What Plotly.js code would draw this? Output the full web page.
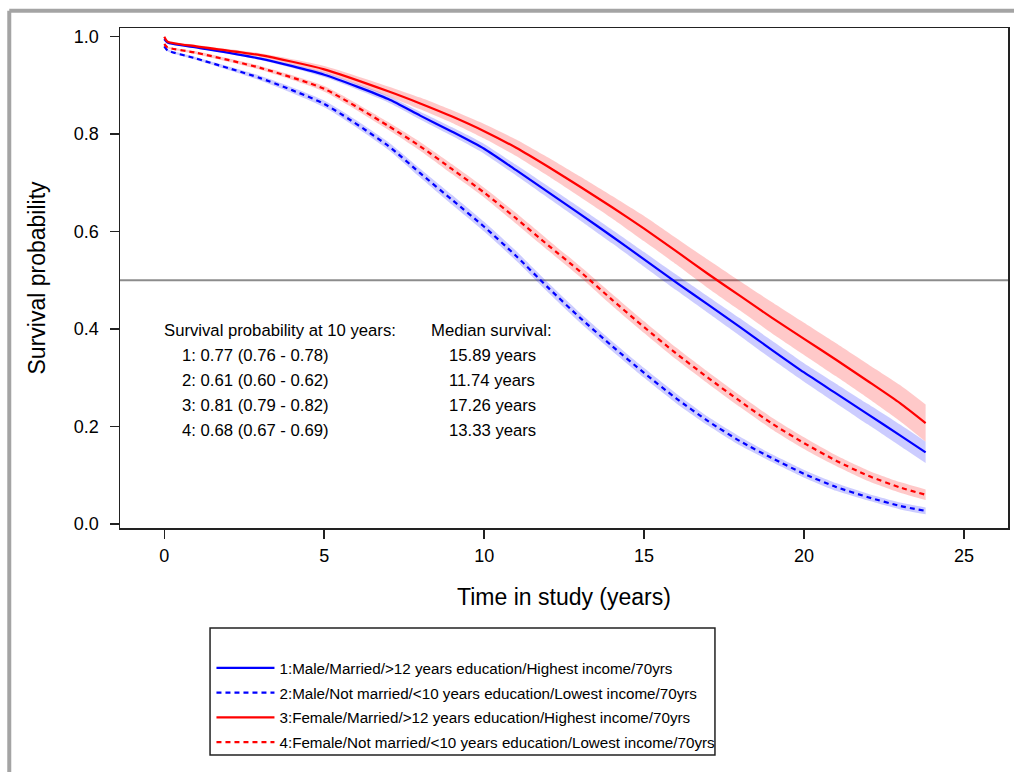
<!DOCTYPE html>
<html>
<head>
<meta charset="utf-8">
<script src="https://cdn.plot.ly/plotly-3.0.1.min.js"></script>
<style>html,body{margin:0;padding:0;background:#fff}</style>
</head>
<body>
<div id="chart" style="width:1014px;height:772px"></div>
<script>
// ---- data ----
const timeYears = [0, 0.1, 1, 3, 5, 7, 8, 9, 10, 11, 12, 13, 14, 15, 16, 17, 18, 19, 20, 21, 22, 23, 23.8];

// 1: Male/Married/>12 yrs education/Highest income
const s1   = [0.995, 0.988, 0.978, 0.955, 0.922, 0.872, 0.838, 0.805, 0.770, 0.726, 0.681, 0.636, 0.590, 0.543, 0.496, 0.450, 0.404, 0.357, 0.311, 0.268, 0.225, 0.182, 0.147];
const s1Lo = [0.995, 0.986, 0.976, 0.952, 0.917, 0.865, 0.830, 0.796, 0.760, 0.715, 0.669, 0.623, 0.576, 0.528, 0.480, 0.433, 0.386, 0.338, 0.292, 0.248, 0.204, 0.160, 0.125];
const s1Hi = [0.995, 0.990, 0.980, 0.958, 0.927, 0.879, 0.846, 0.814, 0.780, 0.737, 0.693, 0.649, 0.604, 0.558, 0.512, 0.467, 0.422, 0.376, 0.330, 0.288, 0.246, 0.204, 0.169];

// 2: Male/Not married/<10 yrs education/Lowest income
const s2   = [0.980, 0.972, 0.955, 0.915, 0.862, 0.776, 0.720, 0.665, 0.610, 0.550, 0.485, 0.423, 0.365, 0.310, 0.258, 0.211, 0.170, 0.135, 0.103, 0.076, 0.055, 0.037, 0.027];
const s2Lo = [0.980, 0.970, 0.952, 0.910, 0.855, 0.768, 0.711, 0.655, 0.600, 0.540, 0.475, 0.413, 0.355, 0.300, 0.248, 0.202, 0.161, 0.127, 0.095, 0.068, 0.048, 0.030, 0.020];
const s2Hi = [0.980, 0.974, 0.958, 0.920, 0.869, 0.784, 0.729, 0.675, 0.620, 0.560, 0.495, 0.433, 0.375, 0.320, 0.268, 0.220, 0.179, 0.143, 0.111, 0.084, 0.062, 0.044, 0.034];

// 3: Female/Married/>12 yrs education/Highest income
const s3   = [1.000, 0.990, 0.980, 0.962, 0.933, 0.888, 0.863, 0.836, 0.806, 0.772, 0.733, 0.692, 0.650, 0.606, 0.560, 0.513, 0.468, 0.423, 0.380, 0.337, 0.293, 0.248, 0.207];
const s3Lo = [1.000, 0.988, 0.977, 0.958, 0.926, 0.878, 0.851, 0.823, 0.791, 0.755, 0.714, 0.671, 0.627, 0.580, 0.533, 0.484, 0.438, 0.391, 0.347, 0.303, 0.258, 0.211, 0.169];
const s3Hi = [1.000, 0.992, 0.983, 0.966, 0.940, 0.898, 0.875, 0.849, 0.821, 0.789, 0.752, 0.713, 0.673, 0.632, 0.587, 0.542, 0.498, 0.455, 0.413, 0.371, 0.328, 0.285, 0.245];

// 4: Female/Not married/<10 yrs education/Lowest income
const s4   = [0.985, 0.978, 0.967, 0.936, 0.893, 0.817, 0.775, 0.728, 0.680, 0.627, 0.572, 0.518, 0.460, 0.404, 0.350, 0.300, 0.252, 0.206, 0.166, 0.130, 0.099, 0.075, 0.060];
const s4Lo = [0.985, 0.976, 0.964, 0.932, 0.887, 0.809, 0.766, 0.718, 0.670, 0.616, 0.561, 0.507, 0.448, 0.392, 0.338, 0.288, 0.240, 0.194, 0.154, 0.119, 0.088, 0.064, 0.049];
const s4Hi = [0.985, 0.980, 0.970, 0.940, 0.899, 0.825, 0.784, 0.738, 0.690, 0.638, 0.583, 0.529, 0.472, 0.416, 0.362, 0.312, 0.264, 0.218, 0.178, 0.141, 0.110, 0.086, 0.071];

const seriesNames = [
  "1:Male/Married/>12 years education/Highest income/70yrs",
  "2:Male/Not married/<10 years education/Lowest income/70yrs",
  "3:Female/Married/>12 years education/Highest income/70yrs",
  "4:Female/Not married/<10 years education/Lowest income/70yrs"
];
const survAt10Title = "Survival probability at 10 years:";
const survAt10 = ["1: 0.77 (0.76 - 0.78)", "2: 0.61 (0.60 - 0.62)", "3: 0.81 (0.79 - 0.82)", "4: 0.68 (0.67 - 0.69)"];
const medianTitle = "Median survival:";
const medianSurv = ["15.89 years", "11.74 years", "17.26 years", "13.33 years"];
const xTicks = [0, 5, 10, 15, 20, 25];
const yTicks = [0, 0.2, 0.4, 0.6, 0.8, 1.0];
const referenceLine = 0.5;

// ---- styling ----
const FONT = "Liberation Sans, Arial, sans-serif";
const BLUE = "#0000ff", RED = "#ff0000";
const BLUE_BAND = "rgba(0,0,255,0.20)", RED_BAND = "rgba(255,0,0,0.21)";

const series = [
  {y: s1, lo: s1Lo, hi: s1Hi, color: BLUE, band: BLUE_BAND, dash: "solid"},
  {y: s2, lo: s2Lo, hi: s2Hi, color: BLUE, band: BLUE_BAND, dash: "5px,4px"},
  {y: s3, lo: s3Lo, hi: s3Hi, color: RED,  band: RED_BAND,  dash: "solid"},
  {y: s4, lo: s4Lo, hi: s4Hi, color: RED,  band: RED_BAND,  dash: "5px,4px"}
];

const traces = [];
series.forEach(function (s) {
  traces.push({x: timeYears, y: s.lo, type: "scatter", mode: "lines",
    line: {width: 0, color: s.band, shape: "spline", smoothing: 0.6}, showlegend: false, hoverinfo: "skip"});
  traces.push({x: timeYears, y: s.hi, type: "scatter", mode: "lines", fill: "tonexty",
    fillcolor: s.band, line: {width: 0, color: s.band, shape: "spline", smoothing: 0.6}, showlegend: false, hoverinfo: "skip"});
});
series.forEach(function (s, i) {
  traces.push({x: timeYears, y: s.y, type: "scatter", mode: "lines", name: seriesNames[i],
    legendgroup: "g" + i, line: {color: s.color, width: 2.2, dash: s.dash, shape: "spline", smoothing: 0.6}});
});

// annotations
const annotations = [];
const rowY = [0.396, 0.346, 0.296, 0.246, 0.196];
const annFont = {family: FONT, size: 16.7, color: "#000"};
annotations.push({xref: "paper", yref: "paper", x: 0.0473, y: rowY[0], xanchor: "left", yanchor: "middle",
  text: survAt10Title, showarrow: false, font: annFont});
annotations.push({xref: "paper", yref: "paper", x: 0.3480, y: rowY[0], xanchor: "left", yanchor: "middle",
  text: medianTitle, showarrow: false, font: annFont});
survAt10.forEach(function (t, i) {
  annotations.push({xref: "paper", yref: "paper", x: 0.0675, y: rowY[i + 1], xanchor: "left", yanchor: "middle",
    text: t, showarrow: false, font: annFont});
});
medianSurv.forEach(function (t, i) {
  annotations.push({xref: "paper", yref: "paper", x: 0.3682, y: rowY[i + 1], xanchor: "left", yanchor: "middle",
    text: t, showarrow: false, font: annFont});
});

const layout = {
  width: 1014, height: 772,
  margin: {l: 120, r: 6, t: 28, b: 244, pad: 0},
  paper_bgcolor: "#fff", plot_bgcolor: "#fff",
  font: {family: FONT, color: "#000"},
  showlegend: true,
  xaxis: {
    range: [-1.384, 26.375], tickvals: xTicks, ticks: "outside", ticklen: 9, tickwidth: 1.5,
    tickcolor: "#222", showline: true, linecolor: "#222", linewidth: 1.5, mirror: true,
    showgrid: false, zeroline: false, tickfont: {family: FONT, size: 18, color: "#000"},
    ticklabelstandoff: 2,
    title: {text: "Time in study (years)", font: {family: FONT, size: 23, color: "#000"}, standoff: 24},
    automargin: false
  },
  yaxis: {
    range: [-0.0082, 1.0178], tickvals: yTicks, tickformat: ".1f", ticks: "outside", ticklen: 9, tickwidth: 1.5,
    tickcolor: "#222", showline: true, linecolor: "#222", linewidth: 1.5, mirror: true,
    showgrid: false, zeroline: false, tickfont: {family: FONT, size: 18, color: "#000"},
    ticklabelstandoff: 7,
    title: {text: "Survival probability", font: {family: FONT, size: 23, color: "#000"}, standoff: 22},
    automargin: false
  },
  legend: {
    x: 0.103, y: -0.247, xanchor: "left", yanchor: "top", orientation: "v",
    bgcolor: "rgba(0,0,0,0)", borderwidth: 0, itemwidth: 58, tracegroupgap: 2,
    traceorder: "grouped", font: {family: FONT, size: 15.2, color: "#000"}
  },
  shapes: [
    {type: "line", xref: "paper", yref: "y", x0: 0, x1: 1, y0: referenceLine, y1: referenceLine,
      line: {color: "#8c8c8c", width: 2}, layer: "below"},
    {type: "rect", xref: "paper", yref: "paper", x0: 0.1014, x1: 0.670, y0: -0.454, y1: -0.2,
      line: {color: "#222", width: 1.5}, fillcolor: "rgba(0,0,0,0)"},
    {type: "line", xref: "paper", yref: "paper", x0: -0.1247, x1: -0.1247, y0: 1.0346, y1: -0.52,
      line: {color: "#a4a4a4", width: 4}},
    {type: "line", xref: "paper", yref: "paper", x0: -0.1247, x1: 1.02, y0: 1.0346, y1: 1.0346,
      line: {color: "#a4a4a4", width: 4}}
  ],
  annotations: annotations
};

Plotly.newPlot("chart", traces, layout, {displayModeBar: false, staticPlot: true});
</script>
</body>
</html>
